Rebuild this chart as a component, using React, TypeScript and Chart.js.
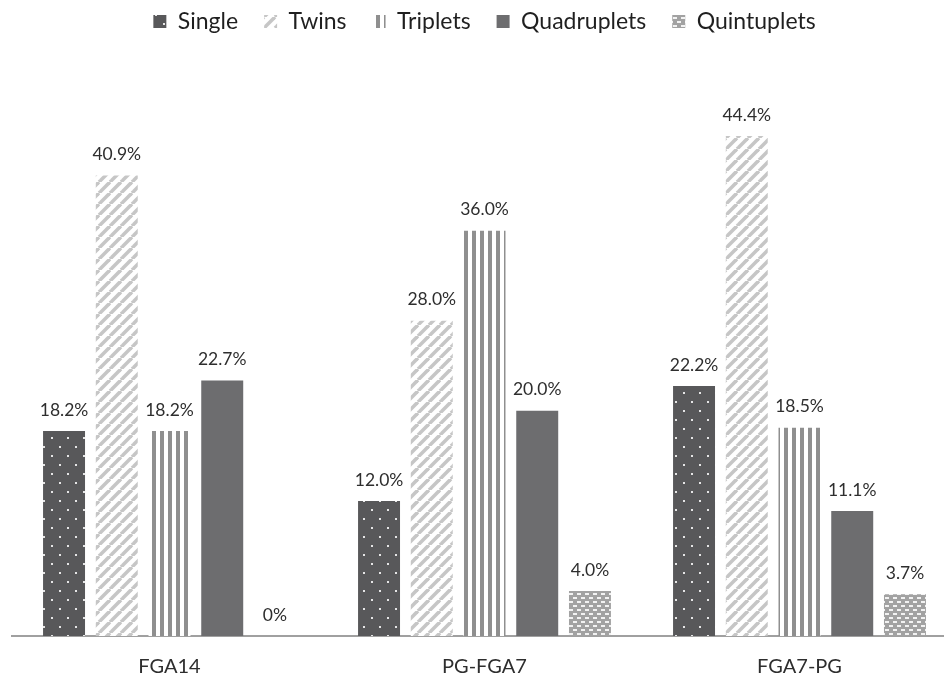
import React, { useEffect, useRef } from "react";
import { Chart, registerables } from "chart.js";

Chart.register(...registerables);

const categories = ["FGA14", "PG-FGA7", "FGA7-PG"];
const seriesNames = ["Single", "Twins", "Triplets", "Quadruplets", "Quintuplets"];
const single = [18.2, 12.0, 22.2];
const twins = [40.9, 28.0, 44.4];
const triplets = [18.2, 36.0, 18.5];
const quadruplets = [22.7, 20.0, 11.1];
const quintuplets = [0, 4.0, 3.7];

const FONT = "Lato, 'Open Sans', sans-serif";
const CANVAS_W = 960;
const CANVAS_H = 714;
const SHIFT_Y = -16;

type Painter = (g: CanvasRenderingContext2D, w: number, h: number) => void;

function makePattern(ctx: CanvasRenderingContext2D, w: number, h: number, paint: Painter) {
  const tile = document.createElement("canvas");
  tile.width = w;
  tile.height = h;
  const g = tile.getContext("2d")!;
  paint(g, w, h);
  return ctx.createPattern(tile, "repeat")!;
}

function buildFills(ctx: CanvasRenderingContext2D) {
  // dark fill with a staggered grid of light dots
  const dots = makePattern(ctx, 16, 18, (g, w, h) => {
    g.fillStyle = "#58585a";
    g.fillRect(0, 0, w, h);
    g.fillStyle = "#e6e6e6";
    g.fillRect(3, 3, 2, 2);
    g.fillRect(11, 12, 2, 2);
  });
  // light diagonal stripes rising to the right
  const diagonal = makePattern(ctx, 11, 11, (g, w, h) => {
    g.fillStyle = "#ffffff";
    g.fillRect(0, 0, w, h);
    g.strokeStyle = "#c6c6c6";
    g.lineWidth = 3.6;
    for (const off of [-w, 0, w]) {
      g.beginPath();
      g.moveTo(off, h);
      g.lineTo(off + w, 0);
      g.stroke();
    }
  });
  // vertical stripes
  const vertical = makePattern(ctx, 8, 4, (g, w, h) => {
    g.fillStyle = "#ffffff";
    g.fillRect(0, 0, w, h);
    g.fillStyle = "#8f8f8f";
    g.fillRect(0, 0, 4, h);
  });
  // light grey with staggered short white dashes
  const bricks = makePattern(ctx, 8, 8, (g, w, h) => {
    g.fillStyle = "#a2a2a2";
    g.fillRect(0, 0, w, h);
    g.fillStyle = "#f2f2f2";
    g.fillRect(1, 1, 4, 2);
    g.fillRect(5, 5, 3, 2);
    g.fillRect(0, 5, 1, 2);
  });
  return [dots, diagonal, vertical, "#6d6d6f", bricks];
}

const valueLabels = {
  id: "valueLabels",
  afterDatasetsDraw(chart: any) {
    const { ctx } = chart;
    ctx.save();
    ctx.font = `17.5px ${FONT}`;
    ctx.fillStyle = "#2e2e2e";
    ctx.textAlign = "center";
    ctx.textBaseline = "middle";
    chart.data.datasets.forEach((ds: any, i: number) => {
      const meta = chart.getDatasetMeta(i);
      meta.data.forEach((bar: any, j: number) => {
        const v = ds.data[j] as number;
        const text = v === 0 ? "0%" : `${v.toFixed(1)}%`;
        ctx.fillText(text, bar.x, bar.y - 21);
      });
    });
    ctx.restore();
  },
};

const legendHeight = {
  id: "legendHeight",
  beforeInit(chart: any) {
    const fit = chart.legend.fit;
    chart.legend.fit = function () {
      fit.call(this);
      this.height = 89;
    };
  },
};

export default function App() {
  const ref = useRef<HTMLCanvasElement | null>(null);

  useEffect(() => {
    const canvas = ref.current!;
    const ctx = canvas.getContext("2d")!;
    const fills = buildFills(ctx);
    const series = [single, twins, triplets, quadruplets, quintuplets];

    const chart = new Chart(canvas, {
      type: "bar",
      data: {
        labels: categories,
        datasets: seriesNames.map((name, i) => ({
          label: name,
          data: series[i],
          backgroundColor: fills[i] as any,
          borderWidth: 0,
          categoryPercentage: 0.837,
          barPercentage: 0.796,
        })),
      },
      options: {
        animation: false,
        responsive: false,
        devicePixelRatio: 1,
        layout: { padding: { left: 12, right: 3, top: 0, bottom: 0 } },
        plugins: {
          legend: {
            position: "top",
            labels: {
              boxWidth: 13,
              boxHeight: 13,
              padding: 26,
              color: "#1f1f1f",
              font: { family: FONT, size: 23 },
            },
          },
          tooltip: { enabled: false },
        },
        scales: {
          x: {
            grid: { display: false, drawTicks: false },
            border: { display: true, color: "#a0a0a0", width: 2 },
            ticks: {
              color: "#2e2e2e",
              padding: 19,
              font: { family: FONT, size: 20 },
            },
          },
          y: {
            display: false,
            min: 0,
            max: 50,
          },
        },
      },
      plugins: [legendHeight, valueLabels],
    });
    return () => chart.destroy();
  }, []);

  return (
    <div
      style={{
        position: "fixed",
        left: 0,
        top: 0,
        width: 944,
        height: 678,
        overflow: "hidden",
        background: "#ffffff",
      }}
    >
      <canvas
        ref={ref}
        width={CANVAS_W}
        height={CANVAS_H}
        style={{ position: "absolute", left: 0, top: SHIFT_Y, width: CANVAS_W, height: CANVAS_H }}
      />
    </div>
  );
}
